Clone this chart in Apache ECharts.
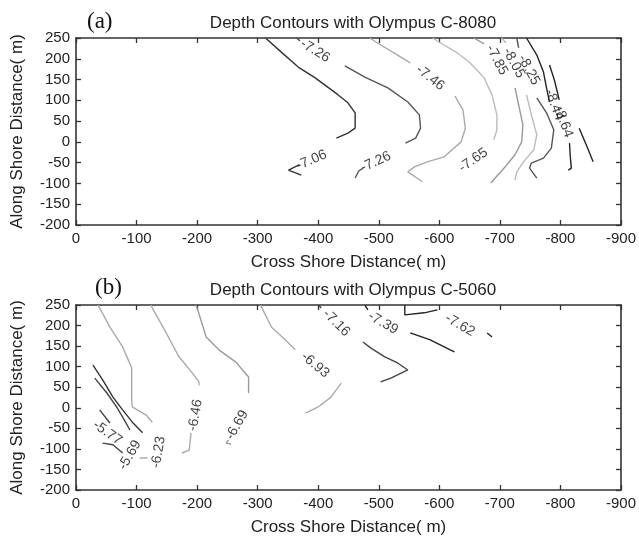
<!DOCTYPE html>
<html>
<head>
<meta charset="utf-8">
<script src="https://cdn.jsdelivr.net/npm/echarts@6/dist/echarts.min.js"></script>
<style>
html, body { margin: 0; padding: 0; background: #fff; }
#main { width: 639px; height: 543px; }
</style>
</head>
<body>
<div id="main"></div>
<script>
// contour traces, [cross shore, along shore] in m, one array per level, broken where clabel sits
// (a) Olympus C-8080
var a706 = [[[-313,250],[-339,216],[-367,180],[-395,154],[-433,113],[-449,94],[-461,70],[-461,33],[-449,21],[-430,9]],
            [[-369,-55],[-351,-68],[-372,-80]]];
var a726 = [[[-364,250],[-370,243]],
            [[-444,183],[-477,156],[-515,130],[-548,96],[-567,65],[-569,33],[-561,9],[-544,-3]],
            [[-474,-63],[-467,-70],[-461,-87]]];
var a746 = [[[-485,250],[-498,238],[-531,209],[-552,190]],
            [[-626,110],[-639,77],[-643,33],[-636,0],[-608,-36],[-580,-48],[-559,-60],[-548,-72],[-572,-96]]];
var a765 = [[[-589,250],[-602,238],[-630,214],[-651,190],[-674,154],[-687,113],[-695,65],[-695,29],[-690,5]]];
var a785 = [[[-657,250],[-674,236]],
            [[-725,130],[-731,89],[-738,41],[-736,0],[-725,-31],[-707,-63],[-685,-99]]];
var a805 = [[[-703,250],[-710,238]],
            [[-744,113],[-752,65],[-761,17],[-756,-19],[-739,-48],[-728,-72],[-725,-92]]];
var a825 = [[[-728,250],[-731,226]],
            [[-761,106],[-777,70],[-789,29],[-785,-15],[-772,-39],[-752,-51],[-749,-63],[-761,-87]]];
var a844 = [[[-744,250],[-761,209],[-772,168],[-777,130],[-782,96]],
            [[-782,185],[-790,149],[-798,101]]];
var a864 = [[[-815,-3],[-816,-31],[-818,-63],[-813,-68]],
            [[-831,33],[-838,9],[-846,-19],[-854,-48]]];
var labelsA = [[-395,219,'-7.26'],[-389,-44,'-7.06'],[-495,-48,'-7.26'],[-585,154,'-7.46'],[-656,-44,'-7.65'],
               [-695,197,'-7.85'],[-723,190,'-8.05'],[-748,173,'-8.25'],[-790,89,'-8.44'],[-805,48,'-8.64']];

// (b) Olympus C-5060
var b569 = [[[-28,104],[-44,68],[-61,26],[-77,-5],[-93,-35],[-110,-61]]];
var b577 = [[[-31,72],[-51,36],[-67,2],[-80,-30],[-89,-54]],
            [[-39,-5],[-56,-37]],
            [[-44,-86],[-61,-90],[-77,-110]]];
var b623 = [[[-36,250],[-39,243],[-56,196],[-77,148],[-92,97],[-92,19],[-93,2],[-116,-18],[-126,-35]],
            [[-105,-122],[-118,-122]]];
var b646 = [[[-124,250],[-126,243],[-149,182],[-170,124],[-192,85],[-203,63],[-203,55]],
            [[-190,-61],[-187,-103],[-175,-110]]];
var b669 = [[[-198,250],[-200,243],[-215,172],[-236,141],[-264,111],[-285,75],[-285,36]],
            [[-252,-78],[-248,-86],[-256,-88]]];
var b693 = [[[-305,250],[-307,243],[-323,196],[-346,165],[-362,141]],
            [[-438,60],[-421,26],[-400,2],[-379,-13]]];
var b716 = [[[-400,250],[-405,243]],
            [[-474,160],[-487,145],[-510,124],[-531,109],[-548,92],[-520,72],[-503,63]]];
var b739 = [[[-477,250],[-482,238]],
            [[-552,182],[-585,165],[-618,141],[-625,136]]];
var b762 = [[[-543,250],[-543,226],[-575,231],[-597,238]],
            [[-679,182],[-687,172]]];
var labelsB = [[-395,104,'-6.93'],[-430,206,'-7.16'],[-507,206,'-7.39'],[-634,201,'-7.62'],[-52,-61,'-5.77'],
               [-89,-115,'-5.69'],[-136,-108,'-6.23'],[-197,-18,'-6.46'],[-266,-42,'-6.69']];

var linesA = [a706, a726, a746, a765, a785, a805, a825, a844, a864];
var linesB = [b569, b577, b623, b646, b669, b693, b716, b739, b762];

// styles
var colorsA = ['#333', '#555', '#aaa', '#bbb', '#999', '#bbb', '#555', '#222', '#222'];
var colorsB = ['#333', '#444', '#aaa', '#aaa', '#999', '#aaa', '#444', '#222', '#222'];
var rotA = [-32, 23, 25, -38, 35, -62, -62, -62, -70, -70];
var rotB = [-40, -45, -30, -30, -35, 60, 80, 80, 60];

var font = 'Liberation Sans, Arial, sans-serif';
var axisColor = '#333';
var series = [];

function addPanel(p, lines, colors, labels, rots) {
  lines.forEach(function (segs, i) {
    segs.forEach(function (seg) {
      series.push({
        type: 'line', xAxisIndex: p * 2, yAxisIndex: p * 2,
        data: seg, symbol: 'none', silent: true,
        lineStyle: { color: colors[i], width: 1.4 }
      });
    });
  });
  series.push({
    type: 'scatter', xAxisIndex: p * 2, yAxisIndex: p * 2,
    symbolSize: 1, silent: true,
    itemStyle: { color: 'rgba(0,0,0,0)' },
    data: labels.map(function (l, k) {
      return {
        value: [l[0], l[1]],
        label: { show: true, position: 'inside', formatter: l[2], rotate: rots[k],
                 color: '#111', fontSize: 14, fontFamily: font }
      };
    })
  });
}
addPanel(0, linesA, colorsA, labelsA, rotA);
addPanel(1, linesB, colorsB, labelsB, rotB);

function xAxes(g) {
  var base = {
    gridIndex: g, type: 'value', min: -900, max: 0, interval: 100, inverse: true,
    axisLine: { show: true, onZero: false, lineStyle: { color: axisColor, width: 1.6 } },
    axisTick: { show: true, inside: true, length: 5, lineStyle: { color: axisColor, width: 1.3 } },
    splitLine: { show: false }
  };
  return [
    Object.assign({}, base, {
      position: 'bottom',
      axisLabel: { color: '#222', fontSize: 15, margin: 6, fontFamily: font },
      name: 'Cross Shore Distance( m)', nameLocation: 'middle', nameGap: 29,
      nameTextStyle: { color: '#222', fontSize: 17, fontFamily: font }
    }),
    Object.assign({}, base, { position: 'top', axisLabel: { show: false } })
  ];
}
function yAxes(g) {
  var base = {
    gridIndex: g, type: 'value', min: -200, max: 250, interval: 50,
    axisLine: { show: true, onZero: false, lineStyle: { color: axisColor, width: 1.6 } },
    axisTick: { show: true, inside: true, length: 5, lineStyle: { color: axisColor, width: 1.3 } },
    splitLine: { show: false }
  };
  return [
    Object.assign({}, base, {
      position: 'left',
      axisLabel: { color: '#222', fontSize: 15, margin: 6, fontFamily: font },
      name: 'Along Shore Distance( m)', nameLocation: 'middle', nameGap: 50,
      nameTextStyle: { color: '#222', fontSize: 17, fontFamily: font }
    }),
    Object.assign({}, base, { position: 'right', axisLabel: { show: false } })
  ];
}

var chart = echarts.init(document.getElementById('main'));
chart.setOption({
  animation: false,
  backgroundColor: '#fff',
  title: [
    { text: 'Depth Contours with Olympus C-8080', left: 348, top: 10, textAlign: 'center',
      textStyle: { fontSize: 17, fontWeight: 'normal', color: '#222', fontFamily: font } },
    { text: 'Depth Contours with Olympus C-5060', left: 348, top: 277, textAlign: 'center',
      textStyle: { fontSize: 17, fontWeight: 'normal', color: '#222', fontFamily: font } },
    { text: '(a)', left: 82, top: 5,
      textStyle: { fontSize: 23, fontWeight: 'normal', color: '#111', fontFamily: 'Liberation Serif, DejaVu Serif, serif' } },
    { text: '(b)', left: 90, top: 271,
      textStyle: { fontSize: 23, fontWeight: 'normal', color: '#111', fontFamily: 'Liberation Serif, DejaVu Serif, serif' } }
  ],
  grid: [
    { left: 76, top: 38, width: 549, height: 187 },
    { left: 76, top: 305, width: 549, height: 185 }
  ],
  xAxis: xAxes(0).concat(xAxes(1)),
  yAxis: yAxes(0).concat(yAxes(1)),
  series: series
});
</script>
</body>
</html>
